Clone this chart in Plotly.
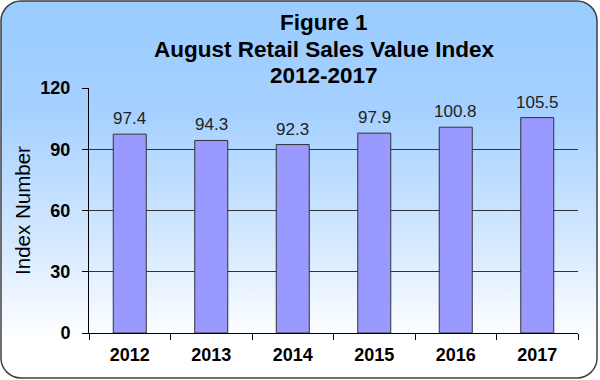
import base64
import plotly.graph_objects as go

years = ["2012", "2013", "2014", "2015", "2016", "2017"]
index_values = [97.4, 94.3, 92.3, 97.9, 100.8, 105.5]
y_ticks = [0, 30, 60, 90, 120]
title_lines = ["Figure 1", "August Retail Sales Value Index", "2012-2017"]
y_title = "Index Number"

W, H = 600, 380
ML, MR, MT, MB = 89, 22, 88, 47
PW, PH = W - ML - MR, H - MT - MB

svg = f'''<svg xmlns="http://www.w3.org/2000/svg" width="{W}" height="{H}" viewBox="0 0 {W} {H}">
<defs><linearGradient id="g" x1="0" y1="0" x2="0" y2="1">
<stop offset="0" stop-color="#99CCFF"/>
<stop offset="0.3" stop-color="#A6D1FF"/>
<stop offset="0.65" stop-color="#D6E9FF"/>
<stop offset="0.9" stop-color="#FFFFFF"/>
<stop offset="1" stop-color="#FFFFFF"/>
</linearGradient></defs>
<rect x="1" y="1" width="596" height="377" rx="20" ry="20" fill="url(#g)" stroke="#404040" stroke-width="1.5"/>
</svg>'''
src = "data:image/svg+xml;base64," + base64.b64encode(svg.encode()).decode()

fig = go.Figure()
fig.add_trace(go.Bar(
    x=years, y=index_values,
    marker=dict(color="#9999FF", line=dict(color="#333333", width=1)),
    hoverinfo="skip",
))

annotations = []
for i, v in enumerate(index_values):
    annotations.append(dict(
        x=i, y=v, xref="x", yref="y", text=f"{v:.1f}", showarrow=False,
        xanchor="center", yanchor="bottom", yshift=4,
        font=dict(family="Liberation Sans, Arial", size=17, color="#222222"),
    ))

title_y_px = [23, 50, 75]
title_x = (324 - ML) / PW
for line, ypx in zip(title_lines, title_y_px):
    annotations.append(dict(
        text=line, showarrow=False,
        xref="paper", yref="paper",
        x=title_x, y=1 + (MT - ypx) / PH,
        xanchor="center", yanchor="middle",
        font=dict(family="Liberation Sans, Arial", size=22.5, color="#000000", weight="bold"),
    ))

fig.update_layout(
    width=W, height=H,
    margin=dict(l=ML, r=MR, t=MT, b=MB, pad=0),
    paper_bgcolor="rgba(0,0,0,0)",
    plot_bgcolor="#FFFFFF",
    bargap=0.595,
    showlegend=False,
    annotations=annotations,
    images=[dict(
        source=src, xref="paper", yref="paper",
        x=-ML / PW, y=1 + MT / PH, sizex=W / PW, sizey=H / PH,
        xanchor="left", yanchor="top", sizing="stretch", layer="below",
    )],
    xaxis=dict(
        type="category",
        categoryorder="array", categoryarray=years,
        tickson="boundaries",
        ticks="outside", ticklen=6, tickcolor="#000000", tickwidth=1,
        showline=True, linecolor="#000000", linewidth=1,
        showgrid=False,
        ticklabelstandoff=5,
        tickfont=dict(family="Liberation Sans, Arial", size=18, color="#000000", weight="bold"),
    ),
    yaxis=dict(
        range=[0, 120],
        tickvals=y_ticks,
        ticks="outside", ticklen=6, tickcolor="#000000", tickwidth=1,
        showline=True, linecolor="#000000", linewidth=1,
        showgrid=True, gridcolor="#333333", gridwidth=1,
        zeroline=False,
        ticklabelstandoff=8,
        tickfont=dict(family="Liberation Sans, Arial", size=18, color="#000000", weight="bold"),
        title=dict(text=y_title, standoff=4,
                   font=dict(family="Liberation Sans, Arial", size=20.5, color="#000000")),
    ),
)

fig.write_html("out.html", config={"displayModeBar": False},
               post_script="document.body.style.margin='0';document.body.style.overflow='hidden';")
